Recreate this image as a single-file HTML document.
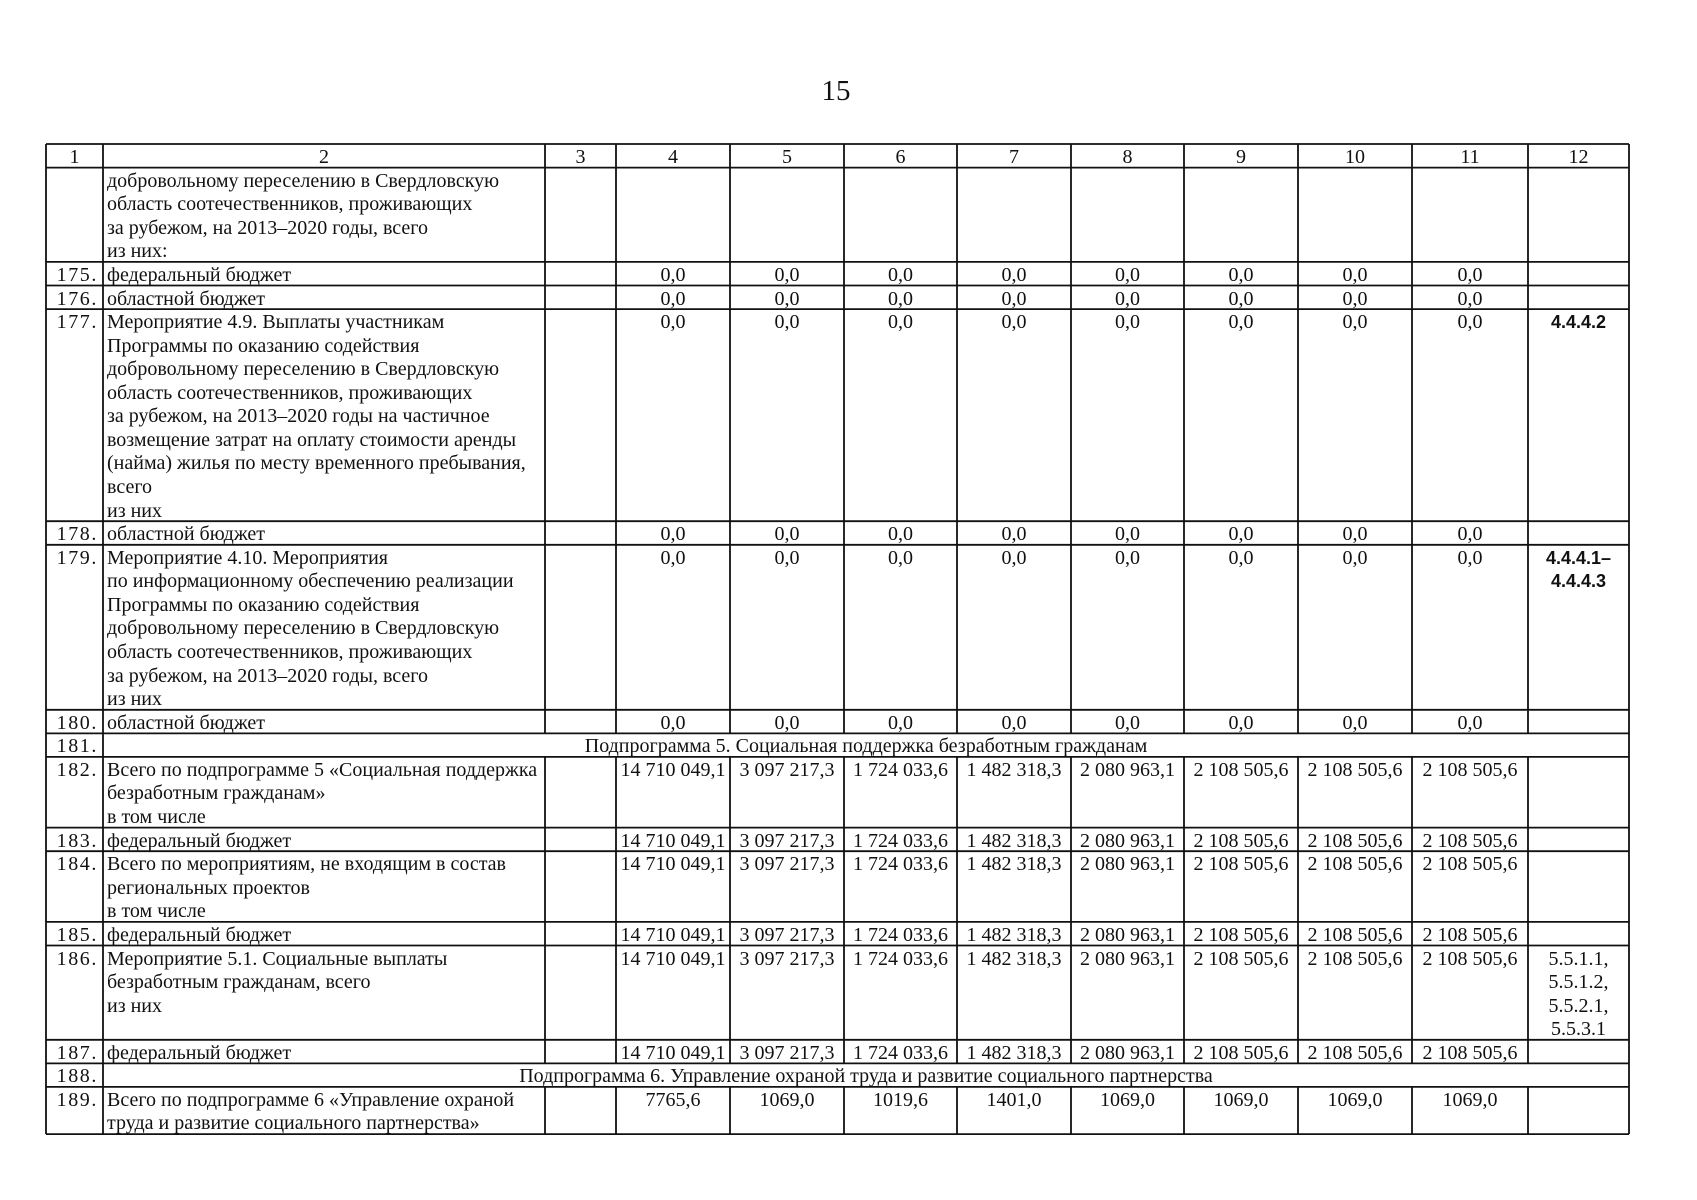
<!DOCTYPE html>
<html lang="ru">
<head>
<meta charset="utf-8">
<style>
html,body{margin:0;padding:0;background:#fff;}
body{width:1697px;height:1200px;position:relative;overflow:hidden;}
svg{position:absolute;left:0;top:0;}
.t{position:absolute;margin-top:2px;font-family:"Liberation Serif","DejaVu Serif",serif;font-size:20px;line-height:23.57px;white-space:nowrap;color:#111;}
.k1{left:46px;width:52px;text-align:right;letter-spacing:1.6px;}
.h1{left:46px;width:57px;text-align:center;}
.k2{left:107px;}
.h2{left:103px;width:442px;text-align:center;}
.h3{left:545px;width:71px;text-align:center;}
.k4{left:616px;width:114px;text-align:center;}
.k5{left:730px;width:114px;text-align:center;}
.k6{left:844px;width:113px;text-align:center;}
.k7{left:957px;width:114px;text-align:center;}
.k8{left:1071px;width:113px;text-align:center;}
.k9{left:1184px;width:114px;text-align:center;}
.k10{left:1298px;width:114px;text-align:center;}
.k11{left:1412px;width:116px;text-align:center;}
.k12{left:1528px;width:101px;text-align:center;}
.sans{font-family:"Liberation Sans","DejaVu Sans",sans-serif;font-size:18px;font-weight:bold;}
.span{left:103px;width:1526px;text-align:center;}
.pn{position:absolute;left:800px;width:72px;top:73px;text-align:center;font-family:"Liberation Serif",serif;font-size:29px;line-height:36px;color:#111;}
</style>
</head>
<body>
<div class="pn">15</div>

<svg width="1697" height="1200" viewBox="0 0 1697 1200">
<g stroke="#111" stroke-width="1.8" fill="none">
<line x1="46" y1="144" x2="1629" y2="144"/>
<line x1="46" y1="167.6" x2="1629" y2="167.6"/>
<line x1="46" y1="261.9" x2="1629" y2="261.9"/>
<line x1="46" y1="285.5" x2="1629" y2="285.5"/>
<line x1="46" y1="309.1" x2="1629" y2="309.1"/>
<line x1="46" y1="521.2" x2="1629" y2="521.2"/>
<line x1="46" y1="544.8" x2="1629" y2="544.8"/>
<line x1="46" y1="709.8" x2="1629" y2="709.8"/>
<line x1="46" y1="733.4" x2="1629" y2="733.4"/>
<line x1="46" y1="756.9" x2="1629" y2="756.9"/>
<line x1="46" y1="827.6" x2="1629" y2="827.6"/>
<line x1="46" y1="851.2" x2="1629" y2="851.2"/>
<line x1="46" y1="921.9" x2="1629" y2="921.9"/>
<line x1="46" y1="945.5" x2="1629" y2="945.5"/>
<line x1="46" y1="1039.8" x2="1629" y2="1039.8"/>
<line x1="46" y1="1063.4" x2="1629" y2="1063.4"/>
<line x1="46" y1="1086.9" x2="1629" y2="1086.9"/>
<line x1="46" y1="1134.1" x2="1629" y2="1134.1"/>
<line x1="46" y1="144" x2="46" y2="1134.1"/>
<line x1="103" y1="144" x2="103" y2="1134.1"/>
<line x1="1629" y1="144" x2="1629" y2="1134.1"/>
</g>
<g stroke="#111" stroke-width="1.8" fill="none">
<line x1="545" y1="144" x2="545" y2="733.4"/>
<line x1="616" y1="144" x2="616" y2="733.4"/>
<line x1="730" y1="144" x2="730" y2="733.4"/>
<line x1="844" y1="144" x2="844" y2="733.4"/>
<line x1="957" y1="144" x2="957" y2="733.4"/>
<line x1="1071" y1="144" x2="1071" y2="733.4"/>
<line x1="1184" y1="144" x2="1184" y2="733.4"/>
<line x1="1298" y1="144" x2="1298" y2="733.4"/>
<line x1="1412" y1="144" x2="1412" y2="733.4"/>
<line x1="1528" y1="144" x2="1528" y2="733.4"/>
<line x1="545" y1="756.9" x2="545" y2="1063.4"/>
<line x1="616" y1="756.9" x2="616" y2="1063.4"/>
<line x1="730" y1="756.9" x2="730" y2="1063.4"/>
<line x1="844" y1="756.9" x2="844" y2="1063.4"/>
<line x1="957" y1="756.9" x2="957" y2="1063.4"/>
<line x1="1071" y1="756.9" x2="1071" y2="1063.4"/>
<line x1="1184" y1="756.9" x2="1184" y2="1063.4"/>
<line x1="1298" y1="756.9" x2="1298" y2="1063.4"/>
<line x1="1412" y1="756.9" x2="1412" y2="1063.4"/>
<line x1="1528" y1="756.9" x2="1528" y2="1063.4"/>
<line x1="545" y1="1086.9" x2="545" y2="1134.1"/>
<line x1="616" y1="1086.9" x2="616" y2="1134.1"/>
<line x1="730" y1="1086.9" x2="730" y2="1134.1"/>
<line x1="844" y1="1086.9" x2="844" y2="1134.1"/>
<line x1="957" y1="1086.9" x2="957" y2="1134.1"/>
<line x1="1071" y1="1086.9" x2="1071" y2="1134.1"/>
<line x1="1184" y1="1086.9" x2="1184" y2="1134.1"/>
<line x1="1298" y1="1086.9" x2="1298" y2="1134.1"/>
<line x1="1412" y1="1086.9" x2="1412" y2="1134.1"/>
<line x1="1528" y1="1086.9" x2="1528" y2="1134.1"/>
</g>
</svg>

<div class="t h1" style="top:144px">1</div>
<div class="t h2" style="top:144px">2</div>
<div class="t h3" style="top:144px">3</div>
<div class="t k4" style="top:144px">4</div>
<div class="t k5" style="top:144px">5</div>
<div class="t k6" style="top:144px">6</div>
<div class="t k7" style="top:144px">7</div>
<div class="t k8" style="top:144px">8</div>
<div class="t k9" style="top:144px">9</div>
<div class="t k10" style="top:144px">10</div>
<div class="t k11" style="top:144px">11</div>
<div class="t k12" style="top:144px">12</div>

<div class="t k2" style="top:167.6px">добровольному переселению в Свердловскую<br>область соотечественников, проживающих<br>за рубежом, на 2013–2020 годы, всего<br>из них:</div>

<div class="t k1" style="top:261.9px">175.</div>
<div class="t k2" style="top:261.9px">федеральный бюджет</div>
<div class="t k4" style="top:261.9px">0,0</div>
<div class="t k5" style="top:261.9px">0,0</div>
<div class="t k6" style="top:261.9px">0,0</div>
<div class="t k7" style="top:261.9px">0,0</div>
<div class="t k8" style="top:261.9px">0,0</div>
<div class="t k9" style="top:261.9px">0,0</div>
<div class="t k10" style="top:261.9px">0,0</div>
<div class="t k11" style="top:261.9px">0,0</div>

<div class="t k1" style="top:285.5px">176.</div>
<div class="t k2" style="top:285.5px">областной бюджет</div>
<div class="t k4" style="top:285.5px">0,0</div>
<div class="t k5" style="top:285.5px">0,0</div>
<div class="t k6" style="top:285.5px">0,0</div>
<div class="t k7" style="top:285.5px">0,0</div>
<div class="t k8" style="top:285.5px">0,0</div>
<div class="t k9" style="top:285.5px">0,0</div>
<div class="t k10" style="top:285.5px">0,0</div>
<div class="t k11" style="top:285.5px">0,0</div>

<div class="t k1" style="top:309.1px">177.</div>
<div class="t k2" style="top:309.1px">Мероприятие 4.9. Выплаты участникам<br>Программы по оказанию содействия<br>добровольному переселению в Свердловскую<br>область соотечественников, проживающих<br>за рубежом, на 2013–2020 годы на частичное<br>возмещение затрат на оплату стоимости аренды<br>(найма) жилья по месту временного пребывания,<br>всего<br>из них</div>
<div class="t k4" style="top:309.1px">0,0</div>
<div class="t k5" style="top:309.1px">0,0</div>
<div class="t k6" style="top:309.1px">0,0</div>
<div class="t k7" style="top:309.1px">0,0</div>
<div class="t k8" style="top:309.1px">0,0</div>
<div class="t k9" style="top:309.1px">0,0</div>
<div class="t k10" style="top:309.1px">0,0</div>
<div class="t k11" style="top:309.1px">0,0</div>
<div class="t k12 sans" style="top:309.1px">4.4.4.2</div>

<div class="t k1" style="top:521.2px">178.</div>
<div class="t k2" style="top:521.2px">областной бюджет</div>
<div class="t k4" style="top:521.2px">0,0</div>
<div class="t k5" style="top:521.2px">0,0</div>
<div class="t k6" style="top:521.2px">0,0</div>
<div class="t k7" style="top:521.2px">0,0</div>
<div class="t k8" style="top:521.2px">0,0</div>
<div class="t k9" style="top:521.2px">0,0</div>
<div class="t k10" style="top:521.2px">0,0</div>
<div class="t k11" style="top:521.2px">0,0</div>

<div class="t k1" style="top:544.8px">179.</div>
<div class="t k2" style="top:544.8px">Мероприятие 4.10. Мероприятия<br>по информационному обеспечению реализации<br>Программы по оказанию содействия<br>добровольному переселению в Свердловскую<br>область соотечественников, проживающих<br>за рубежом, на 2013–2020 годы, всего<br>из них</div>
<div class="t k4" style="top:544.8px">0,0</div>
<div class="t k5" style="top:544.8px">0,0</div>
<div class="t k6" style="top:544.8px">0,0</div>
<div class="t k7" style="top:544.8px">0,0</div>
<div class="t k8" style="top:544.8px">0,0</div>
<div class="t k9" style="top:544.8px">0,0</div>
<div class="t k10" style="top:544.8px">0,0</div>
<div class="t k11" style="top:544.8px">0,0</div>
<div class="t k12 sans" style="top:544.8px">4.4.4.1–<br>4.4.4.3</div>

<div class="t k1" style="top:709.8px">180.</div>
<div class="t k2" style="top:709.8px">областной бюджет</div>
<div class="t k4" style="top:709.8px">0,0</div>
<div class="t k5" style="top:709.8px">0,0</div>
<div class="t k6" style="top:709.8px">0,0</div>
<div class="t k7" style="top:709.8px">0,0</div>
<div class="t k8" style="top:709.8px">0,0</div>
<div class="t k9" style="top:709.8px">0,0</div>
<div class="t k10" style="top:709.8px">0,0</div>
<div class="t k11" style="top:709.8px">0,0</div>

<div class="t k1" style="top:733.4px">181.</div>
<div class="t span" style="top:733.4px">Подпрограмма 5. Социальная поддержка безработным гражданам</div>

<div class="t k1" style="top:756.9px">182.</div>
<div class="t k2" style="top:756.9px">Всего по подпрограмме 5 «Социальная поддержка<br>безработным гражданам»<br>в том числе</div>
<div class="t k4" style="top:756.9px">14 710 049,1</div>
<div class="t k5" style="top:756.9px">3 097 217,3</div>
<div class="t k6" style="top:756.9px">1 724 033,6</div>
<div class="t k7" style="top:756.9px">1 482 318,3</div>
<div class="t k8" style="top:756.9px">2 080 963,1</div>
<div class="t k9" style="top:756.9px">2 108 505,6</div>
<div class="t k10" style="top:756.9px">2 108 505,6</div>
<div class="t k11" style="top:756.9px">2 108 505,6</div>

<div class="t k1" style="top:827.6px">183.</div>
<div class="t k2" style="top:827.6px">федеральный бюджет</div>
<div class="t k4" style="top:827.6px">14 710 049,1</div>
<div class="t k5" style="top:827.6px">3 097 217,3</div>
<div class="t k6" style="top:827.6px">1 724 033,6</div>
<div class="t k7" style="top:827.6px">1 482 318,3</div>
<div class="t k8" style="top:827.6px">2 080 963,1</div>
<div class="t k9" style="top:827.6px">2 108 505,6</div>
<div class="t k10" style="top:827.6px">2 108 505,6</div>
<div class="t k11" style="top:827.6px">2 108 505,6</div>

<div class="t k1" style="top:851.2px">184.</div>
<div class="t k2" style="top:851.2px">Всего по мероприятиям, не входящим в состав<br>региональных проектов<br>в том числе</div>
<div class="t k4" style="top:851.2px">14 710 049,1</div>
<div class="t k5" style="top:851.2px">3 097 217,3</div>
<div class="t k6" style="top:851.2px">1 724 033,6</div>
<div class="t k7" style="top:851.2px">1 482 318,3</div>
<div class="t k8" style="top:851.2px">2 080 963,1</div>
<div class="t k9" style="top:851.2px">2 108 505,6</div>
<div class="t k10" style="top:851.2px">2 108 505,6</div>
<div class="t k11" style="top:851.2px">2 108 505,6</div>

<div class="t k1" style="top:921.9px">185.</div>
<div class="t k2" style="top:921.9px">федеральный бюджет</div>
<div class="t k4" style="top:921.9px">14 710 049,1</div>
<div class="t k5" style="top:921.9px">3 097 217,3</div>
<div class="t k6" style="top:921.9px">1 724 033,6</div>
<div class="t k7" style="top:921.9px">1 482 318,3</div>
<div class="t k8" style="top:921.9px">2 080 963,1</div>
<div class="t k9" style="top:921.9px">2 108 505,6</div>
<div class="t k10" style="top:921.9px">2 108 505,6</div>
<div class="t k11" style="top:921.9px">2 108 505,6</div>

<div class="t k1" style="top:945.5px">186.</div>
<div class="t k2" style="top:945.5px">Мероприятие 5.1. Социальные выплаты<br>безработным гражданам, всего<br>из них</div>
<div class="t k4" style="top:945.5px">14 710 049,1</div>
<div class="t k5" style="top:945.5px">3 097 217,3</div>
<div class="t k6" style="top:945.5px">1 724 033,6</div>
<div class="t k7" style="top:945.5px">1 482 318,3</div>
<div class="t k8" style="top:945.5px">2 080 963,1</div>
<div class="t k9" style="top:945.5px">2 108 505,6</div>
<div class="t k10" style="top:945.5px">2 108 505,6</div>
<div class="t k11" style="top:945.5px">2 108 505,6</div>
<div class="t k12" style="top:945.5px">5.5.1.1,<br>5.5.1.2,<br>5.5.2.1,<br>5.5.3.1</div>

<div class="t k1" style="top:1039.8px">187.</div>
<div class="t k2" style="top:1039.8px">федеральный бюджет</div>
<div class="t k4" style="top:1039.8px">14 710 049,1</div>
<div class="t k5" style="top:1039.8px">3 097 217,3</div>
<div class="t k6" style="top:1039.8px">1 724 033,6</div>
<div class="t k7" style="top:1039.8px">1 482 318,3</div>
<div class="t k8" style="top:1039.8px">2 080 963,1</div>
<div class="t k9" style="top:1039.8px">2 108 505,6</div>
<div class="t k10" style="top:1039.8px">2 108 505,6</div>
<div class="t k11" style="top:1039.8px">2 108 505,6</div>

<div class="t k1" style="top:1063.4px">188.</div>
<div class="t span" style="top:1063.4px">Подпрограмма 6. Управление охраной труда и развитие социального партнерства</div>

<div class="t k1" style="top:1086.9px">189.</div>
<div class="t k2" style="top:1086.9px">Всего по подпрограмме 6 «Управление охраной<br>труда и развитие социального партнерства»</div>
<div class="t k4" style="top:1086.9px">7765,6</div>
<div class="t k5" style="top:1086.9px">1069,0</div>
<div class="t k6" style="top:1086.9px">1019,6</div>
<div class="t k7" style="top:1086.9px">1401,0</div>
<div class="t k8" style="top:1086.9px">1069,0</div>
<div class="t k9" style="top:1086.9px">1069,0</div>
<div class="t k10" style="top:1086.9px">1069,0</div>
<div class="t k11" style="top:1086.9px">1069,0</div>

</body>
</html>
